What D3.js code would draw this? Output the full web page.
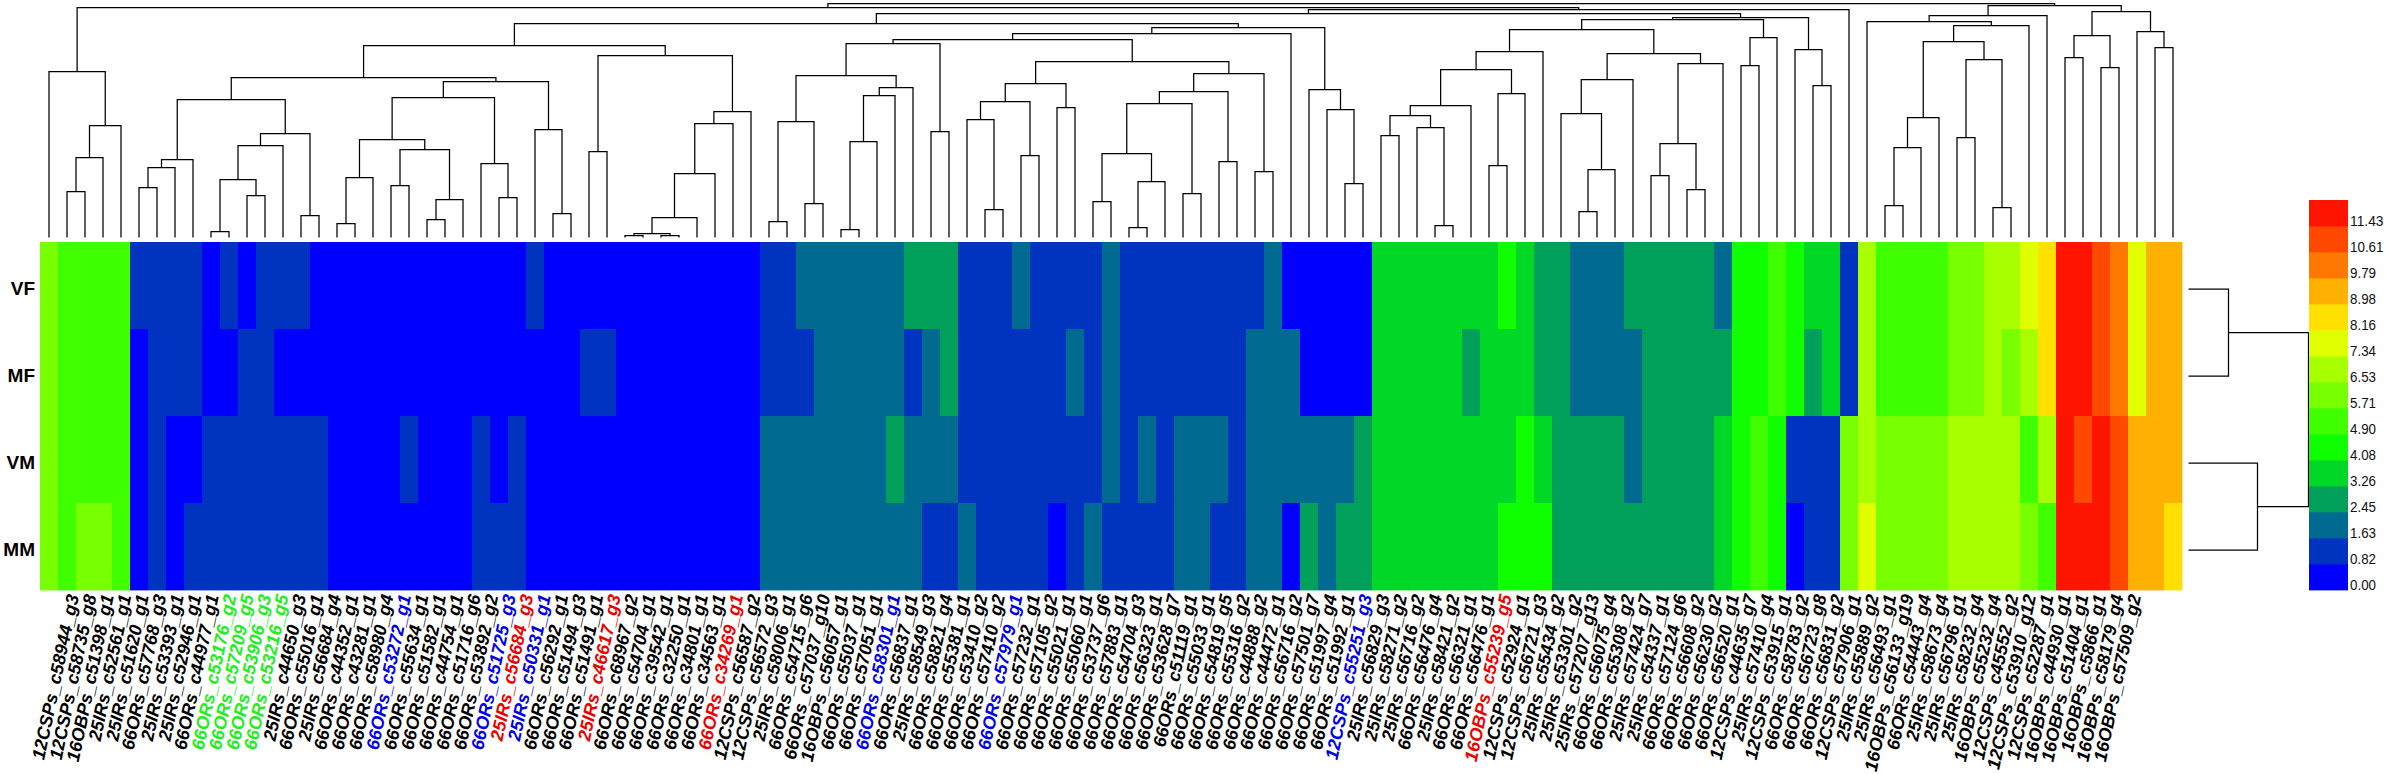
<!DOCTYPE html>
<html><head><meta charset="utf-8">
<script src="https://d3js.org/d3.v7.min.js"></script>
<style>html,body{margin:0;padding:0;background:#fff}svg{display:block}text{font-family:"Liberation Sans",Arial,sans-serif}</style>
</head><body><svg id="c" width="2386" height="774"></svg>
<script>
const rowNames=["VF","MF","VM","MM"];
const legendTicks=[0.00,0.82,1.63,2.45,3.26,4.08,4.90,5.71,6.53,7.34,8.16,8.98,9.79,10.61,11.43];
const binColors=["#0000ff","#0033c0","#006a90","#00a05a","#00d828","#10ff00","#40ff00","#78ff00","#a8ff00","#e0ff00","#ffe000","#ffb000","#ff7800","#ff4800","#ff1400"];
// colour-bin index of each cell, one entry per column
const VF=[7,6,6,6,6,1,1,1,1,0,1,0,1,1,1,0,0,0,0,0,0,0,0,0,0,0,0,1,0,0,0,0,0,0,0,0,0,0,0,0,1,1,2,2,2,2,2,2,3,3,3,1,1,1,2,1,1,1,1,2,1,1,1,1,1,1,1,1,2,0,0,0,0,0,4,4,4,4,4,4,4,5,4,3,3,2,2,2,3,3,3,3,3,2,5,5,6,5,4,4,1,8,6,6,6,6,7,7,8,8,9,10,14,14,13,12,9,11,11];
const MF=[7,6,6,6,6,0,1,1,1,0,0,1,1,0,0,0,0,0,0,0,0,0,0,0,0,0,0,0,0,0,1,1,0,0,0,0,0,0,0,0,1,1,1,2,2,2,2,2,1,2,3,1,1,1,1,1,1,2,1,2,1,1,1,1,1,1,1,2,2,2,0,0,0,0,4,4,4,4,4,3,4,4,4,3,3,2,2,2,2,3,3,3,3,3,5,5,6,5,3,4,1,8,6,6,6,6,7,7,8,7,8,10,14,14,13,12,9,11,11];
const VM=[7,6,6,6,6,0,1,0,0,1,1,1,1,1,1,1,0,0,0,0,1,0,0,0,1,0,1,0,0,0,0,0,0,0,0,0,0,0,0,0,2,2,2,2,2,2,2,3,2,2,2,1,1,1,1,1,1,1,1,2,1,2,1,2,2,2,1,2,2,2,2,2,2,3,4,4,4,4,4,4,4,4,5,4,3,3,3,3,2,3,3,3,3,4,5,6,5,1,1,1,7,8,7,7,7,7,8,8,8,8,6,8,14,13,14,13,11,11,11];
const MM=[7,6,7,7,6,0,1,0,1,1,1,1,1,1,1,1,0,0,0,0,0,0,0,0,1,1,1,0,0,0,0,0,0,0,0,0,0,0,0,0,2,2,2,2,2,2,2,2,2,1,1,2,1,1,1,1,0,1,2,1,1,1,1,2,2,1,1,2,2,0,3,2,3,3,4,4,4,4,4,4,4,5,5,5,3,3,3,3,3,3,3,3,3,4,5,6,5,0,1,1,7,9,7,7,7,7,8,8,8,8,7,6,14,14,14,13,11,11,10];
const matrix=[VF,MF,VM,MM];
const colLabels=["12CSPs_c58944_g3","12CSPs_c58735_g8","16OBPs_c51398_g1","25IRs_c52561_g1","25IRs_c51620_g1","66ORs_c57768_g3","25IRs_c53393_g1","25IRs_c52946_g1","66ORs_c44977_g1","66ORs_c53176_g2","66ORs_c57209_g5","66ORs_c53906_g3","66ORs_c53216_g5","25IRs_c44650_g3","66ORs_c55016_g1","25IRs_c56684_g4","66ORs_c44352_g1","66ORs_c43281_g1","66ORs_c58980_g4","66ORs_c53272_g1","66ORs_c55634_g1","66ORs_c51582_g1","66ORs_c44754_g1","66ORs_c51716_g6","66ORs_c53892_g2","66ORs_c51725_g3","25IRs_c56684_g3","25IRs_c50331_g1","66ORs_c56292_g1","66ORs_c51494_g3","66ORs_c51491_g1","25IRs_c46617_g3","66ORs_c68967_g2","66ORs_c54704_g1","66ORs_c39542_g1","66ORs_c32250_g1","66ORs_c34801_g1","66ORs_c34563_g1","66ORs_c34269_g1","12CSPs_c56587_g2","12CSPs_c56572_g3","25IRs_c58006_g1","66ORs_c54715_g6","66ORs_c57037_g10","16OBPs_c56057_g1","66ORs_c55037_g1","66ORs_c57051_g1","66ORs_c58301_g1","66ORs_c56837_g1","25IRs_c58549_g3","66ORs_c58821_g4","66ORs_c55381_g1","66ORs_c53410_g2","66ORs_c57410_g2","66ORs_c57979_g1","66ORs_c57232_g1","66ORs_c57105_g2","66ORs_c55021_g1","66ORs_c55060_g1","66ORs_c53737_g6","66ORs_c57883_g1","66ORs_c54704_g3","66ORs_c56323_g1","66ORs_c53628_g7","66ORs_c51119_g1","66ORs_c55033_g1","66ORs_c54819_g5","66ORs_c55316_g2","66ORs_c44888_g2","66ORs_c44472_g1","66ORs_c56716_g2","66ORs_c57501_g7","66ORs_c51997_g4","66ORs_c51992_g1","12CSPs_c55251_g3","25IRs_c56829_g3","25IRs_c58271_g2","25IRs_c56716_g2","66ORs_c56476_g4","25IRs_c58421_g2","66ORs_c56321_g1","66ORs_c56476_g1","16OBPs_c55239_g5","12CSPs_c52924_g1","12CSPs_c56721_g3","25IRs_c55434_g2","25IRs_c53301_g2","25IRs_c57207_g13","66ORs_c56075_g4","66ORs_c55308_g2","25IRs_c57424_g7","25IRs_c54337_g1","66ORs_c57124_g6","66ORs_c56608_g2","66ORs_c56230_g2","66ORs_c56520_g1","12CSPs_c44635_g7","25IRs_c57410_g4","12CSPs_c53915_g1","66ORs_c58783_g2","66ORs_c56723_g8","66ORs_c56831_g2","12CSPs_c57906_g1","25IRs_c55889_g2","25IRs_c56493_g1","16OBPs_c56133_g19","66ORs_c54443_g4","25IRs_c58673_g4","25IRs_c56796_g1","25IRs_c58232_g4","16OBPs_c55232_g4","12CSPs_c45552_g2","12CSPs_c53910_g12","12CSPs_c52287_g1","16OBPs_c44930_g1","16OBPs_c51404_g1","16OBPs_c5866_g1","16OBPs_c58179_g4","16OBPs_c57509_g2"];
const greenCols=[9,10,11,12];
const blueCols=[19,25,27,47,54,74];
const redCols=[26,31,38,82];
// column dendrogram: [left, right, merge distance], numbers are leaf columns
const treeD=[0,[[[1,2,46],3,80],4,112],166];
const treeE=[[[5,6,50],7,70],8,78];
const treeF=[[[[9,10,6],[11,12,42],58],13,92],[14,15,22],104];
const treeEF=[treeE,treeF,138];
const treeG=[[[[16,17,14],18,60],[[19,20,52],[[21,22,18],23,38],88],98],[24,[25,26,40],74],140];
const treeGH=[treeG,[27,[28,29,24],108],156];
const treeI=[[30,31,86],[[[[[[32,33,2],[34,35,2],4],36,20],37,64],38,114],39,126],182];
const treeJ=[[treeEF,treeGH,160],treeI,192];
const treeS1=[[[[40,41,16],[42,43,34],116],[[[[44,45,8],46,96],47,142],48,150],162],[49,50,106],194];
const treeP=[[[51,[52,53,28],118],[54,55,82],136],[56,57,130],154];
const treeQ=[[[[58,59,36],[[60,61,10],62,56],84],[63,64,44],134],[65,66,76],146];
const treeR=[treeQ,[67,68,66],164];
const treeMN=[[[treeS1,[treeP,treeR,176],198],69,204],[70,[71,[72,73,54],128],148],210];
const treeV1=[[[[[74,75,102],[76,[77,78,12],110],122],79,132],[[80,81,72],82,144],168],83,186];
const treeV2=[[[84,[[85,86,26],87,68],124],88,158],[[[89,90,62],[91,92,48],94],93,174],184];
const treeU=[[[treeV1,treeV2,208],[[94,95,172],96,200],218],[97,[98,99,152],188],220];
const treeA=[[[102,103,32],104,90],105,120];
const treeB=[[106,107,100],[108,109,30],178];
const treeC=[[treeA,treeB,196],110,212];
const treeZ1=[[101,treeC,216],111,222];
const treeZ2=[[[112,113,180],[114,115,170],202],[116,[117,118,190],206],226];
const treeZ=[treeZ1,treeZ2,232];
const colTree=[[treeD,[[[treeJ,treeMN,214],treeU,224],100,228],230],treeZ,234];
// row dendrogram
const rowTree=[[0,1,40],[2,3,69],120];
const colDistanceMax=234, rowDistanceMax=120;

const svg=d3.select("#c");
const x=d3.scaleBand().domain(d3.range(colLabels.length)).range([40,2182]);
const y=d3.scaleBand().domain(rowNames).range([242,590]);
const color=d3.scaleOrdinal(legendTicks,binColors);
const labelX=d3.scalePoint().domain(d3.range(colLabels.length)).range([79,2141]);

svg.append("g").selectAll("g").data(matrix).join("g").each(function(vals,r){
  d3.select(this).selectAll("rect").data(vals).join("rect")
    .attr("x",(d,i)=>x(i)).attr("y",y(rowNames[r])).attr("width",x.bandwidth()+0.4).attr("height",y.bandwidth()+0.4)
    .attr("fill",d=>color(legendTicks[d]));
});

function drawTree(data,leafPos,hScale,vertical){
  const root=d3.hierarchy(data,d=>Array.isArray(d)?[d[0],d[1]]:null);
  root.eachAfter(n=>{
    n.p=n.children?d3.mean(n.children,c=>c.p):leafPos(n.data);
    n.q=hScale(n.children?n.data[2]:0);
  });
  const g=svg.append("g").attr("fill","none").attr("stroke","#000").attr("stroke-width",1.25);
  g.selectAll("path").data(root.descendants().filter(n=>n.children)).join("path").attr("d",n=>{
    const [a,b]=n.children;
    return vertical
      ?`M${a.p},${a.q}V${n.q}H${b.p}V${b.q}`
      :`M${a.q},${a.p}H${n.q}V${b.p}H${b.q}`;
  });
}
drawTree(colTree,i=>x(i)+x.bandwidth()/2,d3.scaleLinear().domain([0,colDistanceMax]).range([237.5,3.5]),true);
drawTree(rowTree,i=>y(rowNames[i])+y.bandwidth()/2+3.5,d3.scaleLinear().domain([0,rowDistanceMax]).range([2188.5,2308.5]),false);

svg.append("g").selectAll("text").data(rowNames).join("text")
  .attr("x",35).attr("y",d=>y(d)+y.bandwidth()/2+9.5).attr("text-anchor","end")
  .attr("font-size",19).attr("font-weight","bold").text(d=>d);

const lab=svg.append("g").attr("font-size",18).attr("font-weight","bold").attr("font-style","italic");
lab.selectAll("text").data(colLabels).join("text")
  .attr("text-anchor","end")
  .attr("transform",(d,i)=>`translate(${labelX(i)},596) rotate(-78)`)
  .attr("fill",(d,i)=>greenCols.includes(i)?"#22ee22":blueCols.includes(i)?"#0000ee":redCols.includes(i)?"#ee0000":"#000")
  .text(d=>d);

const ly=d3.scaleBand().domain(d3.range(legendTicks.length)).range([590,200]);
const leg=svg.append("g");
leg.selectAll("rect").data(legendTicks).join("rect")
  .attr("x",2309).attr("width",39).attr("y",(d,i)=>ly(i)).attr("height",ly.bandwidth()+0.4).attr("fill",(d,i)=>binColors[i]);
leg.selectAll("text").data(legendTicks).join("text")
  .attr("x",2350).attr("y",(d,i)=>ly(i)+25.5).attr("font-size",14.5).attr("fill","#111")
  .attr("textLength",d=>d>=10?33.5:26).attr("lengthAdjust","spacingAndGlyphs")
  .text(d=>d3.format(".2f")(d));
</script></body></html>
